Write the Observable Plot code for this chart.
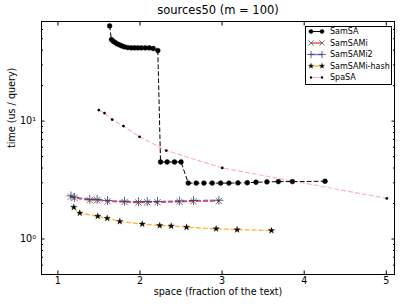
<!DOCTYPE html>
<html><head><meta charset="utf-8">
<script src="https://cdn.jsdelivr.net/npm/d3@7"></script>
<script src="https://cdn.jsdelivr.net/npm/@observablehq/plot@0.6"></script>
<style>
body{margin:0;background:#fff;}
#wrap{position:relative;width:407px;height:305px;font-family:"DejaVu Sans",sans-serif;}
#legend{position:absolute;left:305px;top:26px;}
</style></head><body><div id="wrap"></div>
<script>
const title = "sources50 (m = 100)";
const xLabel = "space (fraction of the text)";
const yLabel = "time (us / query)";
const xTicks = [1, 2, 3, 4, 5];
const yMajorTicks = [1, 10];
const yTickLabels = ["10⁰", "10¹"];
const yMinorTicks = [0.5, 0.6, 0.7, 0.8, 0.9, 2, 3, 4, 5, 6, 7, 8, 9, 20, 30, 40, 50, 60, 70];
const seriesNames = ["SamSA", "SamSAMi", "SamSAMi2", "SamSAMi-hash", "SpaSA"];

const samsaX = [1.63, 1.652, 1.673, 1.698, 1.722, 1.750, 1.778, 1.811, 1.851, 1.893, 1.933, 1.973, 2.015, 2.063, 2.112, 2.161, 2.217,
                2.25, 2.33, 2.42, 2.50,
                2.588, 2.685, 2.778, 2.880, 2.982, 3.083, 3.193, 3.307, 3.412, 3.546, 3.685, 3.856, 4.254];
const samsaY = [64.2, 49.2, 47.6, 46.4, 45.2, 44.3, 43.4, 42.6, 42.1, 41.8, 41.8, 41.8, 41.8, 41.8, 41.8, 41.3, 39.7,
                4.5, 4.5, 4.5, 4.5,
                2.98, 2.98, 2.98, 2.98, 2.98, 2.98, 2.99, 3.0, 3.03, 3.05, 3.07, 3.07, 3.09];

const samsamiX = [1.159, 1.201, 1.388, 1.478, 1.604, 1.811, 1.982, 2.088, 2.213, 2.482, 2.652, 2.961];
const samsamiY = [2.29, 2.23, 2.14, 2.14, 2.09, 2.06, 2.04, 2.05, 2.05, 2.07, 2.09, 2.10];
const samsami2X = [1.159, 1.201, 1.388, 1.478, 1.604, 1.811, 1.982, 2.088, 2.213, 2.482, 2.652, 2.961];
const samsami2Y = [2.32, 2.26, 2.17, 2.17, 2.12, 2.09, 2.07, 2.08, 2.08, 2.10, 2.12, 2.13];

const hashX = [1.193, 1.266, 1.485, 1.600, 1.754, 2.027, 2.240, 2.380, 2.567, 2.927, 3.183, 3.601];
const hashY = [1.86, 1.66, 1.56, 1.50, 1.41, 1.34, 1.30, 1.29, 1.26, 1.22, 1.20, 1.18];

const spasaX = [1.498, 1.567, 1.661, 1.799, 1.994, 2.32, 3.002, 5.006];
const spasaY = [12.4, 11.7, 10.3, 9.07, 7.36, 5.63, 4.01, 2.21];

const rows = (xs, ys) => xs.map((x, i) => ({x, y: ys[i]}));
const samsa = rows(samsaX, samsaY);
const mi = rows(samsamiX, samsamiY);
const mi2 = rows(samsami2X, samsami2Y);
const hash = rows(hashX, hashY);
const spasa = rows(spasaX, spasaY);

const styles = {
  "SamSA": {line: "black", lineWidth: 1, lineOpacity: 1, symbol: "circle", r: 2.4, fill: "black", stroke: "black", sw: 0.5},
  "SamSAMi": {line: "#e8242f", lineWidth: 1.6, lineOpacity: 0.75, symbol: "times", r: 3, fill: "none", stroke: "#555", sw: 0.8},
  "SamSAMi2": {line: "#2b3bff", lineWidth: 1.6, lineOpacity: 0.6, symbol: "plus", r: 3, fill: "none", stroke: "#333a66", sw: 0.8},
  "SamSAMi-hash": {line: "#ffad1f", lineWidth: 1.4, lineOpacity: 0.85, symbol: "star", r: 2, fill: "black", stroke: "black", sw: 0.3},
  "SpaSA": {line: "#ffb3c2", lineWidth: 1.2, lineOpacity: 1, symbol: "circle", r: 1.4, fill: "black", stroke: "none", sw: 0}
};
const dataBy = {"SamSA": samsa, "SamSAMi": mi, "SamSAMi2": mi2, "SamSAMi-hash": hash, "SpaSA": spasa};

const lineMarks = seriesNames.slice().reverse().map(n => Plot.line(dataBy[n], {
  x: "x", y: "y", stroke: styles[n].line, strokeWidth: styles[n].lineWidth,
  strokeOpacity: styles[n].lineOpacity, strokeDasharray: "4,3"
}));
const dotMarks = seriesNames.map(n => Plot.dot(dataBy[n], {
  x: "x", y: "y", symbol: styles[n].symbol, r: styles[n].r,
  fill: styles[n].fill, stroke: styles[n].stroke, strokeWidth: styles[n].sw
}));

const chart = Plot.plot({
  width: 407, height: 305,
  marginLeft: 41, marginRight: 13, marginTop: 21, marginBottom: 31,
  style: {fontFamily: "'DejaVu Sans', sans-serif", fontSize: "9.6px", background: "white", color: "black"},
  x: {domain: [0.8, 5.1], label: null},
  y: {type: "log", domain: [0.5, 70], label: null},
  marks: [
    ...lineMarks,
    ...dotMarks,
    Plot.frame({stroke: "black", strokeWidth: 1}),
    Plot.axisX(xTicks, {anchor: "bottom", tickSize: 3.5, dy: -3.5, tickFormat: () => "", label: null}),
    Plot.axisX(xTicks, {anchor: "bottom", tickSize: 0, tickPadding: 3, tickFormat: d => String(d), label: null}),
    Plot.axisX(xTicks, {anchor: "top", tickSize: 3.5, dy: 3.5, tickFormat: () => "", label: null}),
    Plot.axisY(yMajorTicks, {anchor: "left", tickSize: 3.5, dx: 3.5, tickFormat: () => "", label: null}),
    Plot.axisY(yMajorTicks, {anchor: "left", tickSize: 0, tickPadding: 5.5, tickFormat: d => yTickLabels[yMajorTicks.indexOf(d)], label: null}),
    Plot.axisY(yMinorTicks, {anchor: "left", tickSize: 2, dx: 2, tickFormat: () => "", label: null}),
    Plot.axisY(yMajorTicks, {anchor: "right", tickSize: 3.5, dx: -3.5, tickFormat: () => "", label: null}),
    Plot.axisY(yMinorTicks, {anchor: "right", tickSize: 2, dx: -2, tickFormat: () => "", label: null}),
    Plot.text([title], {frameAnchor: "top", dy: -7.5, lineAnchor: "bottom", text: d => d, fontSize: 11.5}),
    Plot.text([xLabel], {frameAnchor: "bottom", dy: 20, text: d => d, fontSize: 9.6}),
    Plot.text([yLabel], {frameAnchor: "left", dx: -30, rotate: -90, text: d => d, fontSize: 9.6})
  ]
});
const wrap = document.getElementById("wrap");
wrap.appendChild(chart);

// legend
const lw = 87, lh = 59;
const lsvg = d3.select(wrap).append("svg").attr("id", "legend")
  .attr("width", lw).attr("height", lh)
  .style("position", "absolute").style("left", "305px").style("top", "26px");
lsvg.append("rect").attr("x", 0.5).attr("y", 0.5).attr("width", lw - 1).attr("height", lh - 1)
  .attr("fill", "white").attr("stroke", "black").attr("stroke-width", 1);
const symMap = {circle: d3.symbolCircle, times: d3.symbolTimes, plus: d3.symbolPlus, star: d3.symbolStar};
seriesNames.forEach((n, i) => {
  const s = styles[n];
  const cy = 5.5 + i * 11.5;
  const g = lsvg.append("g");
  g.append("line").attr("x1", 6).attr("x2", 17).attr("y1", cy).attr("y2", cy)
    .attr("stroke", s.line).attr("stroke-width", s.lineWidth).attr("stroke-opacity", s.lineOpacity);
  [6, 17].forEach(cx => {
    g.append("path").attr("d", d3.symbol(symMap[s.symbol], Math.PI * s.r * s.r * 0.7)())
      .attr("transform", `translate(${cx},${cy})`)
      .attr("fill", s.fill).attr("stroke", s.stroke).attr("stroke-width", s.sw);
  });
  g.append("text").attr("x", 25).attr("y", cy).attr("dy", "0.35em")
    .attr("font-family", "'DejaVu Sans', sans-serif").attr("font-size", 8).text(n);
});
</script></body></html>
